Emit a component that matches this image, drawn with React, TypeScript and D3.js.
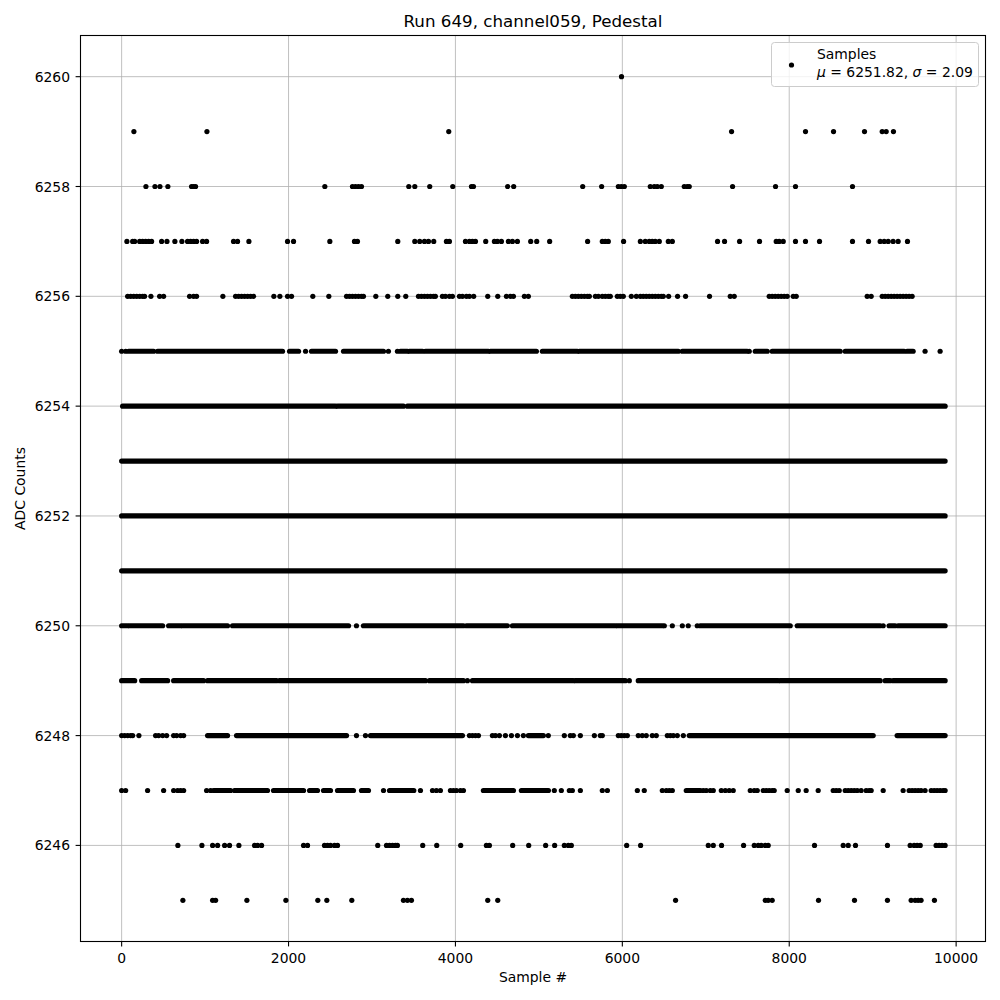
import React from "react";
import * as d3 from "d3";

type Entry = number | [number, number];

// ADC level -> sample numbers (single samples, or [start, end] runs of consecutive overlapping markers)
const L6260: Entry[] = [5990];
const L6259: Entry[] = [147, 1022, 3920, 7309, 8195, 8531, 8902, 9114, 9162, 9249];
const L6258: Entry[] = [291, 399, 459, 554, 838, 862, 886, 2435, 2766, 2802, 2838, 2874, 3441, 3513, 3692, 3968, 4192, 4216, 4626, 4698, 5525, 5752, 5952, 5988, 6024, 6335, 6383, 6419, 6467, 6742, 6778, 6802, 7321, 7836, 8075, 8758];
const L6257: Entry[] = [63, 132, 156, 216, 251, 287, 323, 359, 479, 543, 638, 722, 790, 826, 862, 898, 970, 1018, 1341, 1389, 1525, 1988, 2060, 2495, 2790, 2826, 3309, 3513, 3572, 3629, 3677, 3740, 3892, 3928, 4120, 4168, 4204, 4240, 4363, 4467, 4503, 4551, 4635, 4683, 4743, 4902, 4974, 5129, 5584, 5760, 5796, 5832, 6015, 6216, 6275, 6323, 6359, 6395, 6443, 6551, 6599, 7141, 7225, 7405, 7644, 7844, 7880, 7928, 8075, 8195, 8363, 8758, 8950, 9090, 9138, 9186, 9245, 9305, 9417];
const L6256: Entry[] = [72, 108, 144, 180, 216, 251, 275, 351, 455, 503, 814, 862, 898, 1213, 1365, 1401, 1437, 1473, 1509, 1545, 1581, 1824, 1896, 1988, 2036, 2291, 2483, 2695, 2731, 2766, 2802, 2838, 2874, 2898, 3046, 3189, 3309, 3405, 3557, 3593, 3629, 3665, 3701, 3737, 3760, 3844, 3880, 3928, 3964, 4048, 4084, 4132, 4168, 4219, 4387, 4507, 4611, 4659, 4695, 4826, 4874, 5401, 5437, 5473, 5509, 5545, 5581, 5605, 5677, 5713, 5760, 5796, 5832, 5856, 5940, 5976, 6012, 6108, 6168, 6216, 6251, 6287, 6323, 6359, 6395, 6431, 6467, 6491, 6555, 6662, 6758, 7045, 7293, 7341, 7760, 7796, 7832, 7868, 7904, 7940, 7976, 8048, 8084, 8934, 8982, 9114, 9150, 9186, 9222, 9257, 9293, 9329, 9365, 9401, 9437, 9473];
const L6255: Entry[] = [0, 48, [84, 383], [431, 1928], [2012, 2120], 2204, [2275, 2563], [2659, 3138], 3197, 3305, [3341, 3425], [3449, 3605], [3641, 4395], [4419, 4970], [5042, 5461], [5485, 6671], [6719, 7497], 7521, [7593, 7737], [7796, 8611], [8671, 9377], [9413, 9485], 9628, 9808];
const L6254: Entry[] = [[12, 2563], [2587, 3377], [3425, 9868]];
const L6253: Entry[] = [[0, 9868]];
const L6252: Entry[] = [[0, 9868]];
const L6251: Entry[] = [[0, 9868]];
const L6250: Entry[] = [[0, 72], [96, 491], [563, 707], [731, 1269], [1329, 2719], 2814, [2898, 4096], [4132, 4623], [4683, 5916], [5940, 6479], 6503, 6599, 6719, 6790, 6898, [6934, 8012], [8096, 9090], 9126, [9197, 9269], [9305, 9868]];
const L6249: Entry[] = [[0, 156], [240, 551], [623, 982], [1030, 1856], [1892, 3641], [3689, 4096], 4144, [4204, 5413], [5437, 6036], 6084, [6191, 7868], [7892, 9090], [9150, 9209], [9245, 9868]];
const L6248: Entry[] = [0, 36, 72, 108, 132, 207, 407, 443, 491, 539, 623, 659, 707, 743, [1030, 1269], [1377, 2695], 2814, 2922, [2982, 4084], 4168, 4204, 4240, 4276, 4443, 4479, 4527, 4599, 4671, 4743, 4814, [4874, 5054], 5113, 5305, 5377, 5413, 5497, 5665, 5736, 5760, 5952, 5988, 6024, 6060, 6191, 6239, 6287, 6359, 6407, 6539, 6575, 6611, 6659, 6731, [6802, 9006], [9293, 9868]];
const L6247: Entry[] = [0, 48, 311, 503, 623, 671, 707, 743, 1018, 1066, [1102, 1305], [1353, 1748], [1820, 2180], [2252, 2347], [2419, 2503], [2587, 2778], [2874, 2958], 3138, [3210, 3501], 3581, 3725, 3772, 3820, 3940, 3976, 4012, 4060, 4096, [4335, 4695], [4790, 5114], 5185, 5269, 5365, 5401, 5497, 5760, 5821, 6180, 6263, 6479, 6527, 6563, 6599, [6766, 6934], 6970, 7006, 7054, 7090, 7186, 7234, 7281, 7329, 7533, 7581, 7617, 7689, 7725, 7760, 7796, 7820, 7976, 8108, 8203, 8347, 8527, 8563, 8599, 8671, 8707, 8743, 8779, 8815, 8862, 8922, 8958, 8982, 9126, 9365, 9437, 9473, 9509, 9545, 9580, 9628, 9701, 9737, 9772, 9808, 9844, 9868];
const L6246: Entry[] = [674, 962, 1090, 1150, 1234, 1293, 1405, 1593, 1629, 1677, 2180, 2228, 2431, 2467, 2503, 2551, 2587, 3069, 3174, 3210, 3246, 3281, 3305, 3608, 3776, 4063, 4371, 4407, 4686, 4878, 5081, 5189, 5305, 5353, 5389, 6052, 6219, 7030, 7090, 7189, 7453, 7581, 7629, 7665, 7713, 7748, 8303, 8647, 8707, 8794, 9177, 9449, 9497, 9533, 9570, 9760, 9796, 9832, 9868];
const L6245: Entry[] = [734, 1090, 1126, 1501, 1968, 2351, 2459, 2758, 3377, 3425, 3473, 4387, 4507, 6638, 7713, 7748, 7796, 8351, 8782, 9177, 9461, 9509, 9545, 9580, 9740];

const levels: [number, Entry[]][] = [
  [6260, L6260], [6259, L6259], [6258, L6258], [6257, L6257], [6256, L6256],
  [6255, L6255], [6254, L6254], [6253, L6253], [6252, L6252], [6251, L6251],
  [6250, L6250], [6249, L6249], [6248, L6248], [6247, L6247], [6246, L6246], [6245, L6245],
];

const xTicks = [0, 2000, 4000, 6000, 8000, 10000];
const yTicks = [6246, 6248, 6250, 6252, 6254, 6256, 6258, 6260];
const title = "Run 649, channel059, Pedestal";
const xLabel = "Sample #";
const yLabel = "ADC Counts";
const legendLabel = "Samples";
const stats = { mu: "6251.82", sigma: "2.09" };

const W = 1000, H = 1000;
const left = 80.5, right = 985.5, top = 35.5, bottom = 941.5;
const FONT = "DejaVu Sans, sans-serif";
const R = 2.6;

export default function App() {
  const x = d3.scaleLinear().domain([-493, 10352]).range([left, right]);
  const y = d3.scaleLinear().domain([6244.25, 6260.75]).range([bottom, top]);

  const marks: React.ReactNode[] = [];
  levels.forEach(([lv, entries]) => {
    const yy = y(lv);
    entries.forEach((e, i) => {
      if (Array.isArray(e)) {
        marks.push(
          <line key={`${lv}-${i}`} x1={x(e[0])} x2={x(e[1])} y1={yy} y2={yy}
            stroke="#000" strokeWidth={2 * R} strokeLinecap="round" />
        );
      } else {
        marks.push(<circle key={`${lv}-${i}`} cx={x(e)} cy={yy} r={R} fill="#000" />);
      }
    });
  });

  return (
    <svg width={W} height={H} style={{ display: "block", position: "absolute", left: 0, top: 0 }} fontFamily={FONT}>
      <rect x={0} y={0} width={W} height={H} fill="#fff" />
      <defs>
        <clipPath id="plotclip">
          <rect x={left} y={top} width={right - left} height={bottom - top} />
        </clipPath>
      </defs>
      {/* grid */}
      {xTicks.map((t) => (
        <line key={"gx" + t} x1={x(t)} x2={x(t)} y1={top} y2={bottom} stroke="#b0b0b0" strokeWidth={0.8} />
      ))}
      {yTicks.map((t) => (
        <line key={"gy" + t} x1={left} x2={right} y1={y(t)} y2={y(t)} stroke="#b0b0b0" strokeWidth={0.8} />
      ))}
      <g clipPath="url(#plotclip)">{marks}</g>
      {/* frame */}
      <rect x={left} y={top} width={right - left} height={bottom - top} fill="none" stroke="#000" strokeWidth={1.1} />
      {/* x ticks */}
      {xTicks.map((t) => (
        <g key={"xt" + t}>
          <line x1={x(t)} x2={x(t)} y1={bottom} y2={bottom + 4.9} stroke="#000" strokeWidth={1.1} />
          <text x={x(t)} y={bottom + 21.5} textAnchor="middle" fontSize={13.9} fill="#000">{t}</text>
        </g>
      ))}
      {yTicks.map((t) => (
        <g key={"yt" + t}>
          <line x1={left - 4.9} x2={left} y1={y(t)} y2={y(t)} stroke="#000" strokeWidth={1.1} />
          <text x={left - 10.5} y={y(t)} dy="0.36em" textAnchor="end" fontSize={13.9} fill="#000">{t}</text>
        </g>
      ))}
      <text x={(left + right) / 2} y={982} textAnchor="middle" fontSize={13.9} fill="#000">{xLabel}</text>
      <text transform={`translate(25,${(top + bottom) / 2}) rotate(-90)`} textAnchor="middle" fontSize={13.9} fill="#000">{yLabel}</text>
      <text x={(left + right) / 2} y={27} textAnchor="middle" fontSize={16.7} fill="#000">{title}</text>
      {/* legend */}
      <g>
        <rect x={771.5} y={42.5} width={207} height={44} rx={3} fill="#fff" fillOpacity={0.8} stroke="#cccccc" strokeWidth={1} />
        <circle cx={791.5} cy={65} r={R} fill="#000" />
        <text x={817} y={58.5} fontSize={13.9} fill="#000">{legendLabel}</text>
        <text x={817} y={76.5} fontSize={13.9} fill="#000">
          <tspan fontStyle="italic">μ</tspan>
          <tspan>{` = ${stats.mu}, `}</tspan>
          <tspan fontStyle="italic">σ</tspan>
          <tspan>{` = ${stats.sigma}`}</tspan>
        </text>
      </g>
    </svg>
  );
}
